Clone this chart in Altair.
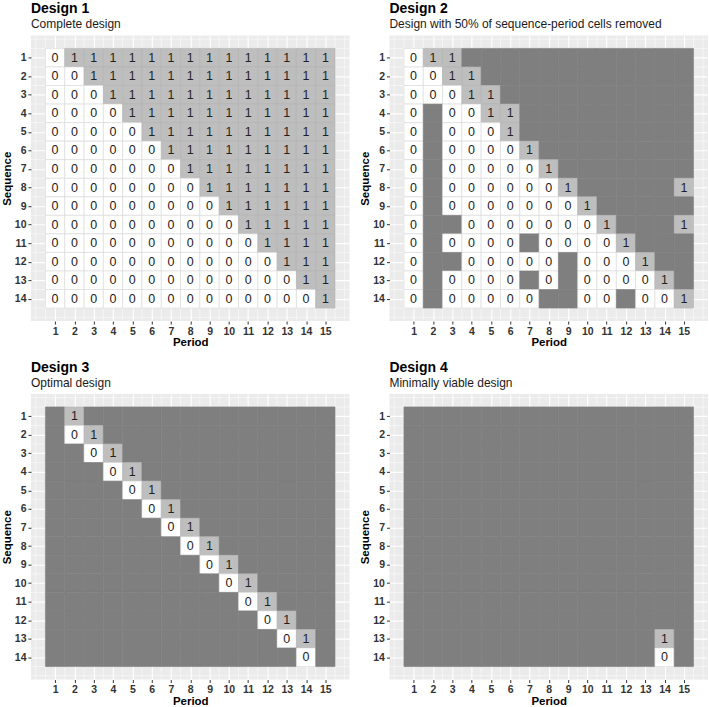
import altair as alt
import pandas as pd

periods = list(range(1, 16))
sequences = list(range(1, 15))

titles = ["Design 1", "Design 2", "Design 3", "Design 4"]
subtitles = [
    "Complete design",
    "Design with 50% of sequence-period cells removed",
    "Optimal design",
    "Minimally viable design",
]

# '0' = control, '1' = intervention, '.' = cell removed
design1 = [
    "011111111111111",
    "001111111111111",
    "000111111111111",
    "000011111111111",
    "000001111111111",
    "000000111111111",
    "000000011111111",
    "000000001111111",
    "000000000111111",
    "000000000011111",
    "000000000001111",
    "000000000000111",
    "000000000000011",
    "000000000000001",
]
design2 = [
    "011............",
    "0011...........",
    "00011..........",
    "0.0011.........",
    "0.0001.........",
    "0.00001........",
    "0.000001.......",
    "0.0000001.....1",
    "0.00000001.....",
    "0..00000001...1",
    "0.0000.00001...",
    "0..00000.0001..",
    "0.0000.0.00001.",
    "0.00000..00.001",
]
design3 = [
    ".1.............",
    ".01............",
    "..01...........",
    "...01..........",
    "....01.........",
    ".....01........",
    "......01.......",
    ".......01......",
    "........01.....",
    ".........01....",
    "..........01...",
    "...........01..",
    "............01.",
    ".............0.",
]
design4 = [
    "...............",
    "...............",
    "...............",
    "...............",
    "...............",
    "...............",
    "...............",
    "...............",
    "...............",
    "...............",
    "...............",
    "...............",
    ".............1.",
    ".............0.",
]

FONT = "Liberation Sans"
W, H = 319, 286
XDOM = [-0.25, 16.25]
YDOM = [-0.2, 15.2]
x_minor = [0.0, 16.0] + [p + 0.5 for p in [0] + periods]
y_minor = [0.0, 15.0] + [s + 0.5 for s in [0] + sequences]


def to_long(rows):
    recs = []
    for s, row in zip(sequences, rows):
        for p, ch in zip(periods, row):
            recs.append({
                "sequence": s,
                "period": p,
                "status": "NA" if ch == "." else ch,
                "label": "" if ch == "." else ch,
            })
    return pd.DataFrame(recs)


def xaxis():
    return alt.Axis(values=periods, title="Period", grid=True, gridColor="white",
                    gridWidth=1.1, format="d", titlePadding=0)


def yaxis():
    return alt.Axis(values=sequences, title="Sequence", grid=True, gridColor="white",
                    gridWidth=1.1, format="d", titlePadding=2)


def panel(rows, title, subtitle):
    df = to_long(rows)
    xs = alt.Scale(domain=XDOM, nice=False, zero=False)
    ys = alt.Scale(domain=YDOM, nice=False, zero=False, reverse=True)

    vminor = alt.Chart(pd.DataFrame({"v": x_minor})).mark_rule(
        color="white", strokeWidth=0.5
    ).encode(x=alt.X("v:Q", scale=xs, axis=xaxis()))
    hminor = alt.Chart(pd.DataFrame({"h": y_minor})).mark_rule(
        color="white", strokeWidth=0.5
    ).encode(y=alt.Y("h:Q", scale=ys, axis=yaxis()))

    tiles = alt.Chart(df).transform_calculate(
        x1="datum.period - 0.5", x2="datum.period + 0.5",
        y1="datum.sequence - 0.5", y2="datum.sequence + 0.5",
    ).mark_rect(strokeWidth=0.6).encode(
        x=alt.X("x1:Q", scale=xs, axis=xaxis()),
        x2="x2:Q",
        y=alt.Y("y1:Q", scale=ys, axis=yaxis()),
        y2="y2:Q",
        fill=alt.Fill("status:N", scale=alt.Scale(domain=["0", "1", "NA"],
                      range=["#FFFFFF", "#BEBEBE", "#7F7F7F"]), legend=None),
        stroke=alt.Stroke("status:N", scale=alt.Scale(domain=["0", "1", "NA"],
                          range=["#D6D6D6", "#B2B2B2", "#7F7F7F"]), legend=None),
    )

    labels = alt.Chart(df).transform_filter("datum.label != ''").mark_text(
        font=FONT, fontSize=12.5, color="#222222"
    ).encode(
        x=alt.X("period:Q", scale=xs, axis=xaxis()),
        y=alt.Y("sequence:Q", scale=ys, axis=yaxis()),
        text="label:N",
    )

    return alt.layer(vminor, hminor, tiles, labels).properties(
        width=W, height=H,
        title=alt.TitleParams(
            text=title, subtitle=subtitle, anchor="start", frame="group",
            font=FONT, fontSize=14, fontWeight="bold", color="black",
            subtitleFont=FONT, subtitleFontSize=12, subtitleColor="#1A1A1A",
            subtitlePadding=3, offset=5,
        ),
    )


p1 = panel(design1, titles[0], subtitles[0])
p2 = panel(design2, titles[1], subtitles[1])
p3 = panel(design3, titles[2], subtitles[2])
p4 = panel(design4, titles[3], subtitles[3])

chart = alt.vconcat(
    alt.hconcat(p1, p2, spacing=9),
    alt.hconcat(p3, p4, spacing=9),
    spacing=12,
).properties(
    padding={"left": 1, "top": 1, "right": 0, "bottom": 0}
).configure_view(
    fill="#EBEBEB", stroke=None
).configure_axis(
    labelFont=FONT, labelFontSize=10.5, labelFontWeight="bold", labelColor="#333333",
    titleFont=FONT, titleFontSize=11.5, titleFontWeight="bold", titleColor="black",
    tickColor="#333333", tickSize=3, tickWidth=1, domain=False,
    labelPadding=2,
)

chart.save("out.html", embed_options={"renderer": "svg", "actions": False})
